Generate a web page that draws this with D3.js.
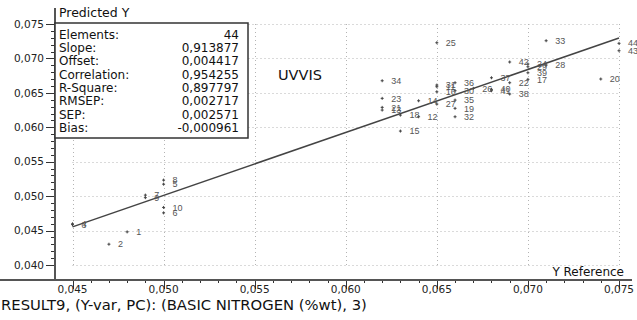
<!DOCTYPE html>
<html>
<head>
<meta charset="utf-8">
<script src="https://cdn.jsdelivr.net/npm/d3@7"></script>
<style>
  html, body { margin: 0; padding: 0; background: #fff; }
  svg { display: block; }
</style>
</head>
<body>
<svg id="chart" width="637" height="320"></svg>
<script>
// Sample numbers, reference values and predicted values (BASIC NITROGEN, %wt)
const sampleIds = [1,2,3,4,5,6,7,8,9,10,11,12,13,14,15,16,17,18,19,20,21,22,
  23,24,25,26,27,28,29,30,31,32,33,34,35,36,37,38,39,40,41,42,43,44];
const referenceY = [0.048,0.047,0.045,0.045,0.050,0.050,0.049,0.050,0.049,0.050,
  0.065,0.064,0.062,0.064,0.063,0.065,0.070,0.063,0.066,0.074,0.062,0.069,
  0.062,0.070,0.065,0.067,0.065,0.071,0.070,0.066,0.065,0.066,0.071,0.062,
  0.066,0.066,0.068,0.069,0.070,0.068,0.068,0.069,0.075,0.075];
const predictedY = [0.04481,0.04302,0.04586,0.04598,0.05174,0.04757,0.05015,0.05233,0.04978,0.04836,
  0.06589,0.06153,0.06250,0.06385,0.05945,0.06516,0.06696,0.06177,0.06275,0.06701,0.06289,0.06647,
  0.06420,0.06919,0.07228,0.06565,0.06337,0.06904,0.06879,0.06531,0.06613,0.06153,0.07257,0.06676,
  0.06395,0.06647,0.06719,0.06483,0.06792,0.06551,0.06531,0.06948,0.07112,0.07219];

// Regression statistics
const statNames = ["Elements:", "Slope:", "Offset:", "Correlation:", "R-Square:", "RMSEP:", "SEP:", "Bias:"];
const statValues = [String(sampleIds.length), "0,913877", "0,004417", "0,954255", "0,897797", "0,002717", "0,002571", "-0,000961"];
const slope = 0.913877;
const offset = 0.004417;

// Axis ticks
const xTicks = [0.045, 0.050, 0.055, 0.060, 0.065, 0.070, 0.075];
const yTicks = [0.040, 0.045, 0.050, 0.055, 0.060, 0.065, 0.070, 0.075];

const titleText = "RESULT9, (Y-var, PC): (BASIC NITROGEN (%wt), 3)";
const modelName = "UVVIS";

const svg = d3.select("#chart");
const uiFont = "'DejaVu Sans', sans-serif";
const markFont = "'Liberation Sans', Arial, sans-serif";

const x = d3.scaleLinear().domain([0.045, 0.075]).range([72.5, 619]);
const y = d3.scaleLinear().domain([0.040, 0.075]).range([265, 24]);

const fmt = d3.formatLocale({decimal: ",", thousands: ".", grouping: [3], currency: ["", ""]}).format(".3f");

const axisX = 55, axisY = 280;

// Dotted grid
const grid = svg.append("g").attr("stroke", "#b4b4b4").attr("stroke-width", 1).attr("stroke-dasharray", "1,3");
grid.selectAll("line.h").data(yTicks).join("line")
  .attr("x1", x(0.045)).attr("x2", x(0.075))
  .attr("y1", d => Math.round(y(d)) + 0.5).attr("y2", d => Math.round(y(d)) + 0.5);
grid.selectAll("line.v").data(xTicks).join("line")
  .attr("x1", d => Math.round(x(d)) + 0.5).attr("x2", d => Math.round(x(d)) + 0.5)
  .attr("y1", y(0.075)).attr("y2", y(0.040));

// Y axis: minor and major ticks on the left
const yMinor = d3.range(40, 76).map(v => v / 1000);
svg.append("g").selectAll("line").data(yMinor).join("line")
  .attr("x1", d => (Math.round(d * 1000) % 5 === 0) ? axisX - 9 : axisX - 4)
  .attr("x2", axisX)
  .attr("y1", d => Math.round(y(d)) + 0.5).attr("y2", d => Math.round(y(d)) + 0.5)
  .attr("stroke", "#333").attr("stroke-width", 1);
svg.append("g").selectAll("text").data(yTicks).join("text")
  .attr("x", axisX - 11).attr("y", d => y(d)).attr("dy", "0.35em")
  .attr("text-anchor", "end").attr("font-family", uiFont).attr("font-size", 10.5)
  .attr("fill", "#222").text(d => fmt(d));

// X axis: minor and major ticks below the base line
const xMinor = d3.range(45, 76).map(v => v / 1000);
svg.append("g").selectAll("line").data(xMinor).join("line")
  .attr("x1", d => Math.round(x(d)) + 0.5).attr("x2", d => Math.round(x(d)) + 0.5)
  .attr("y1", axisY)
  .attr("y2", d => (Math.round(d * 1000) % 5 === 0) ? axisY + 9 : axisY + 3)
  .attr("stroke", "#333").attr("stroke-width", 1);
svg.append("g").selectAll("text").data(xTicks).join("text")
  .attr("x", d => x(d)).attr("y", axisY + 13)
  .attr("text-anchor", "middle").attr("font-family", uiFont).attr("font-size", 10.5)
  .attr("fill", "#222").text(d => fmt(d));

// Axis lines
svg.append("line").attr("x1", axisX).attr("x2", axisX).attr("y1", 8).attr("y2", axisY)
  .attr("stroke", "#555").attr("stroke-width", 2);
svg.append("line").attr("x1", 0).attr("x2", 632).attr("y1", axisY).attr("y2", axisY)
  .attr("stroke", "#555").attr("stroke-width", 2);

// Regression line
svg.append("line")
  .attr("x1", x(0.045)).attr("y1", y(slope * 0.045 + offset))
  .attr("x2", x(0.075)).attr("y2", y(slope * 0.075 + offset))
  .attr("stroke", "#444").attr("stroke-width", 1.5);

// Samples: small crosses with their numbers
const pts = sampleIds.map((id, i) => ({id, rx: referenceY[i], py: predictedY[i]}));
const marks = svg.append("g");
marks.selectAll("path").data(pts).join("path")
  .attr("d", d => {
    const cx = x(d.rx), cy = y(d.py);
    return `M${cx - 1.5},${cy}H${cx + 1.5}M${cx},${cy - 1.5}V${cy + 1.5}`;
  })
  .attr("stroke", "#444").attr("stroke-width", 1);
marks.selectAll("text").data(pts).join("text")
  .attr("x", d => x(d.rx) + 9).attr("y", d => y(d.py)).attr("dy", "0.35em")
  .attr("font-family", markFont).attr("font-size", 9).attr("fill", "#555")
  .text(d => d.id);

// Statistics box
svg.append("rect").attr("x", axisX).attr("y", 23).attr("width", 193).attr("height", 115)
  .attr("fill", "#fff").attr("stroke", "#333").attr("stroke-width", 1.5);
const rows = svg.append("g").attr("font-family", uiFont).attr("font-size", 12).attr("fill", "#111");
rows.selectAll("text.n").data(statNames).join("text")
  .attr("x", 59).attr("y", (d, i) => 34.5 + i * 13.3).attr("dy", "0.35em").text(d => d);
rows.selectAll("text.v").data(statValues).join("text")
  .attr("x", 239).attr("y", (d, i) => 34.5 + i * 13.3).attr("dy", "0.35em")
  .attr("text-anchor", "end").text(d => d);

// Titles
svg.append("text").attr("x", 59).attr("y", 13).attr("dy", "0.35em")
  .attr("font-family", uiFont).attr("font-size", 12.5).attr("fill", "#111").text("Predicted Y");
svg.append("text").attr("x", 624).attr("y", 272).attr("dy", "0.35em").attr("text-anchor", "end")
  .attr("font-family", uiFont).attr("font-size", 12).attr("fill", "#111").text("Y Reference");
svg.append("text").attr("x", 278).attr("y", 75).attr("dy", "0.35em")
  .attr("font-family", uiFont).attr("font-size", 14.5).attr("fill", "#111").text(modelName);
svg.append("text").attr("x", 1).attr("y", 305).attr("dy", "0.35em")
  .attr("font-family", uiFont).attr("font-size", 14.8).attr("fill", "#111").text(titleText);
</script>
</body>
</html>
